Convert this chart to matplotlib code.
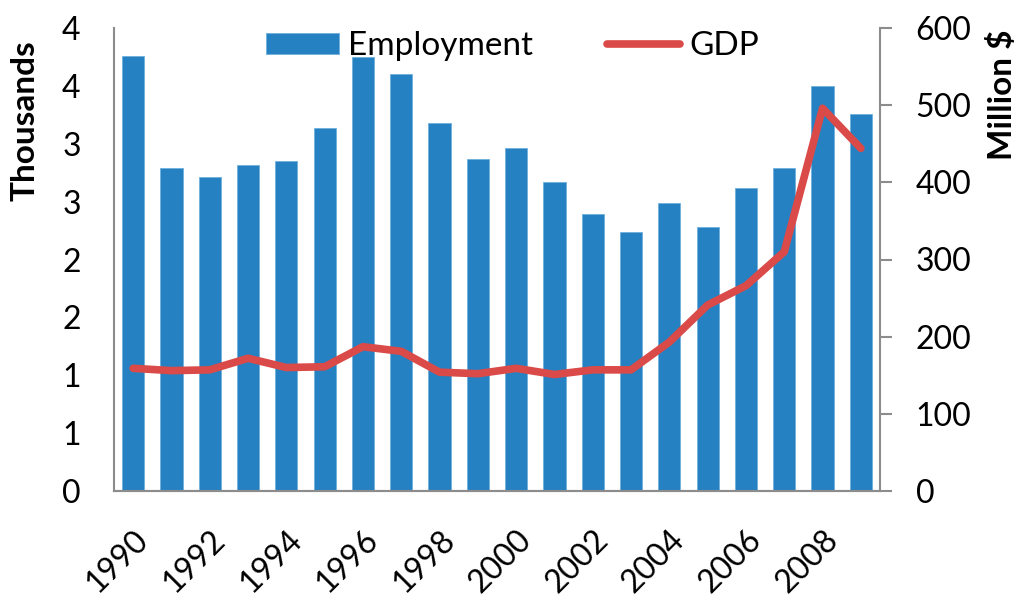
import matplotlib
matplotlib.use("Agg")
import matplotlib.pyplot as plt
import numpy as np

years = list(range(1990, 2010))
employment = [3.76, 2.79, 2.71, 2.82, 2.85, 3.14, 3.75, 3.60, 3.18, 2.87,
              2.96, 2.67, 2.39, 2.24, 2.49, 2.28, 2.62, 2.79, 3.50, 3.26]
gdp = [159, 156, 157, 172, 160, 161, 187, 181, 154, 152,
       159, 151, 157, 157, 193, 241, 266, 310, 496, 444]
left_ticks = [0, 0.5, 1.0, 1.5, 2.0, 2.5, 3.0, 3.5, 4.0]
left_tick_labels = ['0', '1', '1', '2', '2', '3', '3', '4', '4']
right_ticks = [0, 100, 200, 300, 400, 500, 600]
xtick_years = years[::2]

plt.rcParams['font.family'] = ['Lato', 'DejaVu Sans']

fig = plt.figure(figsize=(10.24, 6.16), dpi=100)
ax = fig.add_axes([114/1024, 1-491/616, (880-114)/1024, (491-28)/616])
ax2 = ax.twinx()

x = np.arange(len(years))
bar_color = '#2681C3'
line_color = '#D94A48'
gray = '#8C8C8C'

b = ax.bar(x, employment, width=0.58, color=bar_color, edgecolor='#6FB0DE', linewidth=0.6,
           label='Employment', zorder=2)
l, = ax2.plot(x, gdp, color=line_color, linewidth=5.5, solid_capstyle='round',
              solid_joinstyle='round', label='GDP', zorder=3)

ax.set_xlim(-0.5, len(years) - 0.5)
ax.set_ylim(0, 4.0)
ax2.set_ylim(0, 600)

ax.set_yticks(left_ticks)
ax.set_yticklabels(left_tick_labels)
ax2.set_yticks(right_ticks)
ax2.set_yticklabels([str(v) for v in right_ticks])

ax.set_xticks([years.index(y) for y in xtick_years])
ax.set_xticklabels([str(y) for y in xtick_years], rotation=45, ha='right',
                   rotation_mode='anchor')

for a in (ax, ax2):
    a.spines['top'].set_visible(False)
    for s in ('left', 'right', 'bottom'):
        a.spines[s].set_color(gray)
        a.spines[s].set_linewidth(1.5)
ax2.spines['left'].set_visible(False)
ax.spines['right'].set_visible(False)

ax.tick_params(axis='y', length=0, labelsize=23, pad=24)
ax.tick_params(axis='x', length=0, labelsize=23, pad=24)
ax2.tick_params(axis='y', length=8.6, width=1.5, color=gray, labelsize=23, pad=17, direction='out')

ax.set_ylabel('Thousands', fontsize=24, fontweight='bold')
ax.yaxis.set_label_coords(-0.097, 0.80)
ax2.set_ylabel('Million $', fontsize=24, fontweight='bold', rotation=90)
ax2.yaxis.set_label_coords(1.14, 0.855)

leg = ax.legend([b, l], ['Employment', 'GDP'], loc='center', ncol=2,
                frameon=False, fontsize=24, bbox_to_anchor=(0.52, 0.961),
                handlelength=2.2, handleheight=0.6, columnspacing=2.2, handletextpad=0.27,
                borderaxespad=0, borderpad=0)

fig.savefig('out.png', dpi=100)
